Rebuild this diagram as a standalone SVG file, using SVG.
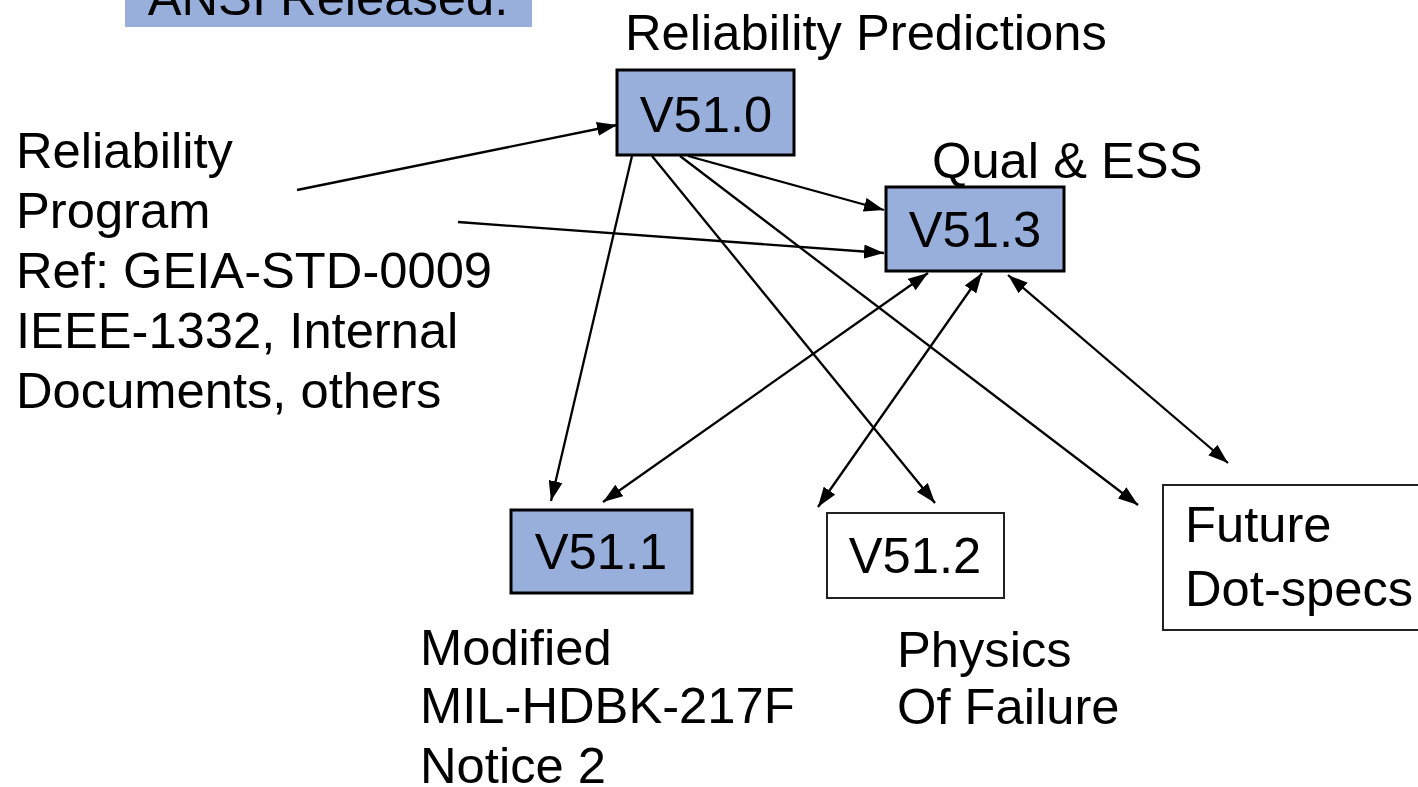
<svg xmlns="http://www.w3.org/2000/svg" width="1418" height="787" viewBox="0 0 1418 787">
<defs>
<marker id="ah" viewBox="0 0 20 14" refX="20" refY="7" markerWidth="20" markerHeight="14" markerUnits="userSpaceOnUse" orient="auto-start-reverse">
<path d="M0,0 L20,7 L0,14 Z" fill="#000"/>
</marker>
<style>
text{font-family:"Liberation Sans",Arial,sans-serif;font-size:50.7px;fill:#000}
.blue{fill:#98AEDB;stroke:#000;stroke-width:3}
.white{fill:#fff;stroke:#222;stroke-width:2}
.c{stroke:#000;stroke-width:2.3;fill:none}
.mid{text-anchor:middle}
</style>
</defs>
<rect width="1418" height="787" fill="#fff"/>
<g id="ansi">
<rect x="125" y="-10" width="407" height="37" fill="#98AEDB"/>
<text x="328" y="15" class="mid">ANSI Released.</text>
</g>
<g id="connectors">
<line class="c" x1="297" y1="190" x2="617" y2="125" marker-end="url(#ah)"/>
<line class="c" x1="458" y1="222" x2="884" y2="253" marker-end="url(#ah)"/>
<line class="c" x1="632" y1="156" x2="551" y2="501" marker-end="url(#ah)"/>
<line class="c" x1="652" y1="156" x2="935" y2="503" marker-end="url(#ah)"/>
<line class="c" x1="680" y1="156" x2="1138" y2="505" marker-end="url(#ah)"/>
<line class="c" x1="688" y1="156" x2="884" y2="210" marker-end="url(#ah)"/>
<line class="c" x1="603" y1="502" x2="928" y2="273" marker-start="url(#ah)" marker-end="url(#ah)"/>
<line class="c" x1="818" y1="507" x2="982" y2="273" marker-start="url(#ah)" marker-end="url(#ah)"/>
<line class="c" x1="1228" y1="463" x2="1008" y2="275" marker-start="url(#ah)" marker-end="url(#ah)"/>
</g>
<g id="v510">
<rect class="blue" x="617" y="70" width="177" height="85"/>
<text x="706" y="132" class="mid">V51.0</text>
</g>
<g id="v513">
<rect class="blue" x="886" y="187" width="178" height="84"/>
<text x="975" y="247" class="mid">V51.3</text>
</g>
<g id="v511">
<rect class="blue" x="511" y="510" width="181" height="83"/>
<text x="601" y="569" class="mid">V51.1</text>
</g>
<g id="v512">
<rect class="white" x="827" y="513" width="177" height="85"/>
<text x="915" y="573" class="mid">V51.2</text>
</g>
<g id="future">
<rect class="white" x="1163" y="485" width="260" height="145"/>
<text x="1185" y="542">Future</text>
<text x="1185" y="606">Dot-specs</text>
</g>
<g id="labels">
<text x="625" y="50">Reliability Predictions</text>
<text x="932" y="178">Qual &amp; ESS</text>
<text x="16" y="168">Reliability</text>
<text x="16" y="228">Program</text>
<text x="16" y="288">Ref: GEIA-STD-0009</text>
<text x="16" y="348">IEEE-1332, Internal</text>
<text x="16" y="408">Documents, others</text>
<text x="420" y="665">Modified</text>
<text x="420" y="723">MIL-HDBK-217F</text>
<text x="420" y="783">Notice 2</text>
<text x="897" y="667">Physics</text>
<text x="897" y="724">Of Failure</text>
</g>
</svg>
